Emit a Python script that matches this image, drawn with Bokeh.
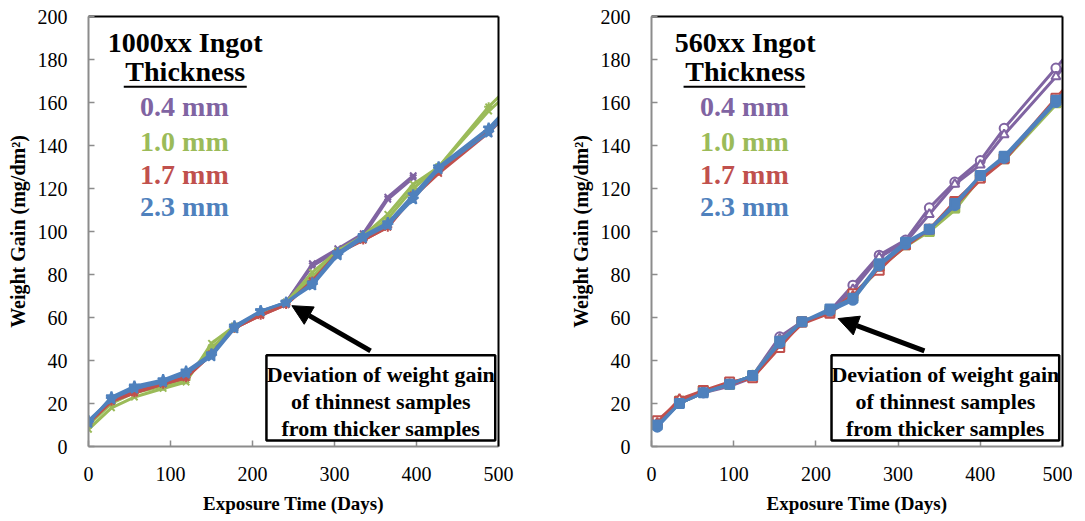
from bokeh.plotting import figure
from bokeh.layouts import row
from bokeh.models import (Range1d, LinearAxis, FixedTicker, Label, BoxAnnotation,
                          Arrow, NormalHead)
from bokeh.embed import file_html
from bokeh.resources import INLINE

# ---------------- data ----------------
thickness_labels = ["0.4 mm", "1.0 mm", "1.7 mm", "2.3 mm"]
colors = ["#8064A2", "#9BBB59", "#C0504D", "#4F81BD"]

x_ticks = [0, 100, 200, 300, 400, 500]
y_ticks = [0, 20, 40, 60, 80, 100, 120, 140, 160, 180, 200]

# 1000xx ingot (left)
days_1000 = [0, 28, 56, 91, 119, 150, 178, 210, 241, 273, 304, 335, 365, 396, 427, 488, 520]
w1000_04_a = [11, 22, 27, 30, 33, 45, 56, 62, 67, 85, 92, 99, 116, 126]
w1000_04_b = [10, 21, 26, 30, 33, 44, 55, 62, 67, 84, 91, 98, 115, 125]
w1000_10_a = [8, 18, 23, 27, 30, 48, 56, 62, 67, 81, 91, 98, 108, 122, 130, 156, 167]
w1000_10_b = [10, 20, 25, 28, 31, 46, 55, 62, 67, 79, 90, 97, 106, 120, 130, 158, 170]
w1000_17_a = [11, 21, 25, 29, 32, 43, 55, 61, 66, 77, 90, 96, 102, 117, 128, 147, 159]
w1000_17_b = [11, 21, 25, 29, 32, 43, 55, 61, 66, 77, 90, 96, 102, 116, 127, 146, 158]
w1000_23_a = [12, 22, 27, 30, 34, 42, 55, 63, 67, 75, 89, 97, 103, 115, 129, 146, 159]
w1000_23_b = [11, 23, 28, 31, 35, 43, 56, 63, 67, 76, 90, 98, 104, 117, 130, 148, 161]

# 560xx ingot (right)
days_560 = [7, 34, 63, 95, 123, 156, 183, 217, 245, 277, 309, 338, 369, 400, 429, 492, 520]
w560_04_a = [10, 20, 25, 29, 33, 51, 58, 63, 75, 89, 96, 111, 123, 133, 148, 176, 189]
w560_04_b = [10, 20, 25, 28, 32, 50, 58, 63, 73, 88, 95, 108, 122, 131, 145, 172, 185]
w560_10_a = [10, 20, 25, 29, 33, 49, 58, 63, 69, 83, 93, 100, 110, 125, 133, 159, 170]
w560_10_b = [11, 21, 26, 29, 33, 48, 58, 63, 70, 84, 94, 100, 111, 126, 134, 160, 171]
w560_17_a = [12, 21, 26, 30, 32, 46, 58, 62, 71, 82, 94, 101, 114, 125, 134, 162, 174]
w560_17_b = [11, 22, 26, 29, 32, 47, 57, 62, 70, 83, 93, 101, 112, 124, 133, 161, 172]
w560_23_a = [9, 20, 25, 29, 33, 48, 58, 63, 68, 84, 94, 101, 112, 126, 134, 160, 170]
w560_23_b = [10, 20, 25, 29, 33, 49, 58, 64, 69, 85, 95, 101, 113, 126, 135, 161, 171]

SERIF = "Liberation Serif"


def make_fig(border_left, border_right, frame_w):
    p = figure(frame_width=frame_w, frame_height=430, output_backend="svg",
               toolbar_location=None, x_range=Range1d(0, 500), y_range=Range1d(0, 200),
               min_border_left=border_left, min_border_right=border_right,
               min_border_top=16, min_border_bottom=58)
    p.outline_line_color = None
    p.grid.visible = False
    p.background_fill_color = "white"
    p.border_fill_color = "white"
    for ax in (p.xaxis[0], p.yaxis[0]):
        ax.axis_line_color = "#8c8c8c"
        ax.axis_line_width = 2
        ax.major_tick_line_color = "#8c8c8c"
        ax.major_tick_line_width = 1.5
        ax.major_tick_in = 6
        ax.major_tick_out = 0
        ax.minor_tick_line_color = None
        ax.major_label_text_font = SERIF
        ax.major_label_text_font_size = "20px"
        ax.major_label_text_color = "black"
        ax.axis_label_text_font = SERIF
        ax.axis_label_text_font_style = "bold"
        ax.axis_label_text_color = "black"
    p.xaxis.ticker = FixedTicker(ticks=x_ticks)
    p.yaxis.ticker = FixedTicker(ticks=y_ticks)
    p.xaxis.axis_label = "Exposure Time (Days)"
    p.yaxis.axis_label = "Weight Gain (mg/dm\u00b2)"
    p.xaxis.axis_label_text_font_size = "19px"
    p.yaxis.axis_label_text_font_size = "20px"
    p.xaxis.major_label_standoff = 20
    p.yaxis.major_label_standoff = 21
    p.xaxis.axis_label_standoff = 9
    p.yaxis.axis_label_standoff = 6
    for side in ("above", "right"):
        ax = LinearAxis(ticker=FixedTicker(ticks=[]), axis_line_color="black",
                        axis_line_width=2, major_tick_out=0, major_tick_in=0,
                        major_label_standoff=0, major_label_text_font_size="0px")
        p.add_layout(ax, side)
    return p


def add_series(p, days, ys, color, marker, fill, size=9):
    xs = days[:len(ys)]
    p.line(xs, ys, line_color=color, line_width=3)
    p.scatter(xs, ys, marker=marker, size=size, line_color=color,
              fill_color=fill, line_width=2)


def add_legend(p, title, x_center):
    p.add_layout(Label(x=x_center, y=188, text=title, text_font=SERIF,
                       text_font_style="bold", text_font_size="28px",
                       text_align="center", text_baseline="middle", text_color="black"))
    p.add_layout(Label(x=x_center, y=174.5, text="Thickness", text_font=SERIF,
                       text_font_style="bold", text_font_size="28px",
                       text_align="center", text_baseline="middle", text_color="black"))
    ys = [158, 142, 126.5, 111.5]
    for lab, c, yy in zip(thickness_labels, colors, ys):
        p.add_layout(Label(x=x_center - 1, y=yy, text=lab, text_font=SERIF,
                           text_font_style="bold", text_font_size="28px",
                           text_align="center", text_baseline="middle", text_color=c))


def add_callout(p, box_left, tail, head):
    p.add_layout(BoxAnnotation(left=box_left, right=496, bottom=2.8, top=42.5,
                               fill_color="white", fill_alpha=1.0,
                               line_color="black", line_alpha=1.0, line_width=2.5))
    lines = ["Deviation of weight gain", "of thinnest samples", "from thicker samples"]
    cx = (box_left + 496) / 2
    for txt, yy in zip(lines, [33.5, 20.8, 8.2]):
        p.add_layout(Label(x=cx, y=yy, text=txt, text_font=SERIF,
                           text_font_style="bold", text_font_size="22px",
                           text_align="center", text_baseline="middle", text_color="black"))
    p.add_layout(Arrow(end=NormalHead(size=20, fill_color="black", line_color="black"),
                       x_start=tail[0], y_start=tail[1], x_end=head[0], y_end=head[1],
                       line_color="black", line_width=5))


# ---------------- left figure ----------------
p1 = make_fig(88, 68, 410)
add_series(p1, days_1000, w1000_04_a, colors[0], "x", colors[0])
add_series(p1, days_1000, w1000_04_b, colors[0], "x", colors[0])
add_series(p1, days_1000, w1000_10_a, colors[1], "x", colors[1])
add_series(p1, days_1000, w1000_10_b, colors[1], "asterisk", colors[1])
add_series(p1, days_1000, w1000_17_a, colors[2], "asterisk", colors[2])
add_series(p1, days_1000, w1000_17_b, colors[2], "x", colors[2])
add_series(p1, days_1000, w1000_23_a, colors[3], "star", colors[3], size=11)
add_series(p1, days_1000, w1000_23_b, colors[3], "star", colors[3], size=11)
p1.segment(x0=[43], y0=[167.3], x1=[193], y1=[167.3], line_color="black", line_width=2)
add_legend(p1, "1000xx Ingot", 118)
add_callout(p1, 217, (344, 44.5), (248, 65.5))

# ---------------- right figure ----------------
p2 = make_fig(84, 10, 411)
add_series(p2, days_560, w560_04_a, colors[0], "circle", "white")
add_series(p2, days_560, w560_04_b, colors[0], "triangle", "white")
add_series(p2, days_560, w560_10_a, colors[1], "triangle", colors[1])
add_series(p2, days_560, w560_10_b, colors[1], "square", colors[1])
add_series(p2, days_560, w560_17_a, colors[2], "square", "white")
add_series(p2, days_560, w560_17_b, colors[2], "triangle", "white")
add_series(p2, days_560, w560_23_a, colors[3], "circle", colors[3])
add_series(p2, days_560, w560_23_b, colors[3], "square", colors[3])
p2.segment(x0=[39], y0=[167.3], x1=[187], y1=[167.3], line_color="black", line_width=2)
add_legend(p2, "560xx Ingot", 114)
add_callout(p2, 219, (332, 44.5), (227, 59.5))

layout = row(p1, p2)
open("out.html", "w").write(file_html(layout, INLINE))
